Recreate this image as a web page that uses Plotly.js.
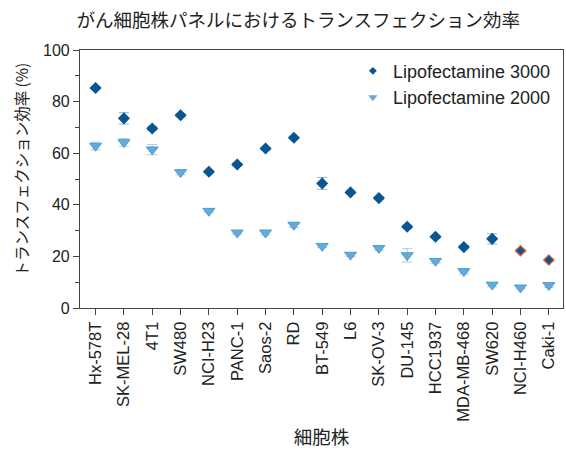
<!DOCTYPE html>
<html><head><meta charset="utf-8">
<script src="https://cdn.plot.ly/plotly-3.0.1.min.js"></script>
<style>html,body{margin:0;padding:0;background:#fff}</style>
</head><body><div id="chart" style="width:566px;height:450px"></div>
<script>
const cellLines = ["Hx-578T","SK-MEL-28","4T1","SW480","NCI-H23","PANC-1","Saos-2","RD","BT-549","L6","SK-OV-3","DU-145","HCC1937","MDA-MB-468","SW620","NCI-H460","Caki-1"];
const lipo3000 = [85.3,73.5,69.6,74.7,52.8,55.6,61.8,66.0,48.3,44.8,42.6,31.5,27.6,23.6,26.8,22.2,18.6];
const lipo3000Err = [0.6,2.2,0.8,0.6,0.5,0.5,0.5,0.5,2.3,0.5,0.5,0.6,0.5,0.6,2.0,0.6,0.5];
const lipo2000 = [62.8,64.2,61.4,52.6,37.6,29.2,29.2,32.2,24.0,20.6,23.2,20.4,18.2,14.2,9.0,7.9,8.8];
const lipo2000Err = [1.5,1.5,2.0,1.0,0.5,0.6,0.8,1.0,0.6,0.6,0.8,2.6,0.8,1.0,0.8,0.5,0.8];
const lipo3000Outline = ["#0b5590","#0b5590","#0b5590","#0b5590","#0b5590","#0b5590","#0b5590","#0b5590","#0b5590","#0b5590","#0b5590","#0b5590","#0b5590","#0b5590","#0b5590","#e8622a","#e8622a"];
const seriesNames = ["Lipofectamine 3000", "Lipofectamine 2000"];

const font = "Liberation Sans, Arial, Noto Sans CJK JP, sans-serif";
const traces = [
  {x: cellLines, y: lipo3000, name: seriesNames[0], type: "scatter", mode: "markers", showlegend: false,
   marker: {symbol: "diamond", size: 8, color: "#0b5590", line: {color: lipo3000Outline, width: 1.2}},
   error_y: {type: "data", array: lipo3000Err, visible: true, color: "#8ab8dc", thickness: 1, width: 5}},
  {x: cellLines, y: lipo2000, name: seriesNames[1], type: "scatter", mode: "markers", showlegend: false,
   marker: {symbol: "triangle-down", size: 10.5, color: "#6aa7dc", line: {color: "#45a3c6", width: 1}},
   error_y: {type: "data", array: lipo2000Err, visible: true, color: "#a9cde8", thickness: 1, width: 5}},
  // legend entries (smaller symbols, as in the reference legend)
  {x: [null], y: [null], name: seriesNames[0], type: "scatter", mode: "markers",
   marker: {symbol: "diamond", size: 6, color: "#0b5590"}},
  {x: [null], y: [null], name: seriesNames[1], type: "scatter", mode: "markers",
   marker: {symbol: "triangle-down", size: 8, color: "#6aa7dc"}}
];
const layout = {
  width: 566, height: 450,
  margin: {l: 80, r: 3, t: 50, b: 142},
  paper_bgcolor: "#fff", plot_bgcolor: "#fff",
  font: {family: font, color: "#222", size: 16},
  title: {text: "がん細胞株パネルにおけるトランスフェクション効率", x: 0.527, xanchor: "center", y: 0.955, yanchor: "middle",
          font: {family: "Noto Sans CJK JP, sans-serif", size: 18.5, color: "#222"}},
  showlegend: true,
  legend: {x: 0.565, y: 0.99, xanchor: "left", yanchor: "top", bgcolor: "rgba(0,0,0,0)", font: {size: 18, color: "#222"}, itemwidth: 30, tracegroupgap: 0},
  xaxis: {type: "category", showline: true, linecolor: "#444", linewidth: 1.2, mirror: true,
          ticks: "outside", ticklen: 6, tickcolor: "#444", tickangle: -90, showgrid: false, zeroline: false,
          range: [-0.55, 16.5],
          tickfont: {size: 16.5, color: "#222"},
          title: {text: "細胞株", font: {family: "Noto Sans CJK JP, sans-serif", size: 18.5, color: "#222"}, standoff: 10}},
  yaxis: {range: [0, 100], showline: true, linecolor: "#444", linewidth: 1.2, mirror: true,
          ticks: "outside", ticklen: 6, tickcolor: "#444", dtick: 20, showgrid: false, zeroline: false,
          minor: {dtick: 10, ticks: "outside", ticklen: 4, tickcolor: "#444"},
          tickfont: {size: 16, color: "#222"}},
  annotations: [
    {text: "トランスフェクション効率 (%)", textangle: -90, xref: "paper", yref: "paper",
     x: -0.123, y: 0.535, xanchor: "center", yanchor: "middle", showarrow: false,
     font: {family: "Noto Sans CJK JP, sans-serif", size: 15.5, color: "#222"}}
  ]
};
Plotly.newPlot("chart", traces, layout, {displayModeBar: false});
</script></body></html>
